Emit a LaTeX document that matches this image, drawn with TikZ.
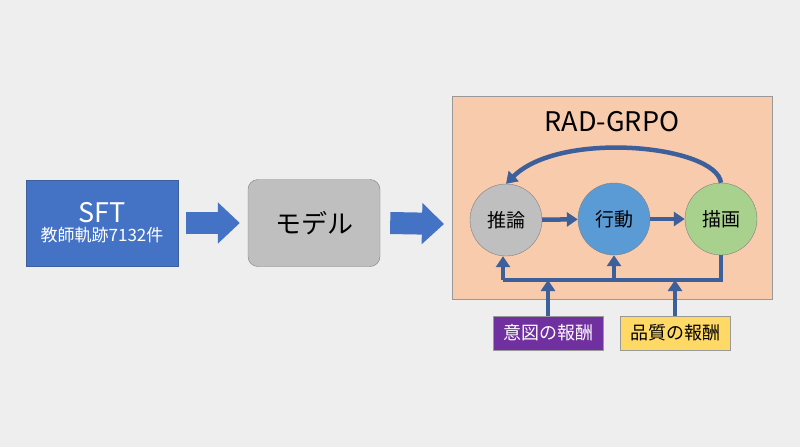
\documentclass[tikz,border=0pt]{standalone}
\usepackage{fontspec}
\setmainfont{Noto Sans CJK JP}
\usetikzlibrary{positioning, shapes.arrows, arrows.meta}
\definecolor{bgc}{HTML}{EEEEEE}
\definecolor{sftblue}{HTML}{4472C4}
\definecolor{lineblue}{HTML}{3D5F9A}
\definecolor{boxpeach}{HTML}{F8CBAD}
\definecolor{cgray}{HTML}{BFBFBF}
\definecolor{cblue}{HTML}{5B9BD5}
\definecolor{cgreen}{HTML}{A9D18E}
\definecolor{rpurple}{HTML}{7030A0}
\definecolor{ryellow}{HTML}{FFD966}
\begin{document}
\begin{tikzpicture}[x=1pt, y=-1pt, font=\fontsize{19}{22}\selectfont]

  \tikzstyle{phase}=[circle, draw=black!50, minimum size=72pt, inner sep=0pt]
  \tikzstyle{reward}=[draw=black!40, minimum width=110pt, minimum height=34pt, inner sep=0pt,
    font=\fontsize{18}{20}\selectfont]
  \tikzstyle{fat}=[line width=22pt, draw=sftblue, -{Triangle[length=22pt, width=40pt]}]
  \tikzstyle{flow}=[line width=4.5pt, draw=lineblue, -{Triangle[length=11pt, width=14pt]}]

  \fill [bgc] (0,0) rectangle (800,447);

  \node [fill=sftblue, draw=lineblue, minimum width=152pt, minimum height=86pt, align=center,
    text=white, inner sep=0pt] (sft) at (102,223)
    {{\fontsize{27}{30}\selectfont SFT}\\[-3pt]{\fontsize{17}{19}\selectfont 教師軌跡7132件}};
  \node [fill=cgray, draw=black!50, rounded corners=10pt, minimum width=132pt,
    minimum height=87pt, inner sep=0pt, font=\fontsize{26}{30}\selectfont] (model) at (314,223) {モデル};
  \draw [fat] ([xshift=8pt]sft.east) -- ([xshift=-8pt]model.west);
  \draw [fat] ([xshift=10pt]model.east) -- ([xshift=-8pt,yshift=-1pt]model.east -| 452,0);

  \node [fill=boxpeach, draw=black!40, minimum width=320pt, minimum height=203pt,
    inner sep=0pt] (grpo) at (612,197.5) {};
  \node [font=\fontsize{27}{30}\selectfont] (title) at (612,122) {RAD-GRPO};

  \node [phase, fill=cgray] (reason) at (506,220) {推論};
  \node [phase, fill=cblue] (act) at (614,219) {行動};
  \node [phase, fill=cgreen] (render) at (721,219) {描画};

  \node [reward, fill=rpurple, text=white] (intent) at (548,333) {意図の報酬};
  \node [reward, fill=ryellow] (quality) at (675,333) {品質の報酬};

  \coordinate (busR) at (721,280);
  \coordinate (busL) at (503,280);
  \coordinate (busM) at (614,280);

  \draw [flow] (reason) -- (act);
  \draw [flow] (act) -- (render);
  \draw [flow] (render.north) .. controls (716,145) and (560,130) .. (reason.north);
  \draw [line width=4.5pt, draw=lineblue] (render.south) -- (busR) -- (busL);
  \draw [flow] (busL) -- (reason.south -| busL);
  \draw [flow] (busM) -- (act.south);
  \draw [flow] (intent.north) -- (intent.north |- busL);
  \draw [flow] (quality.north) -- (quality.north |- busL);
\end{tikzpicture}
\end{document}
